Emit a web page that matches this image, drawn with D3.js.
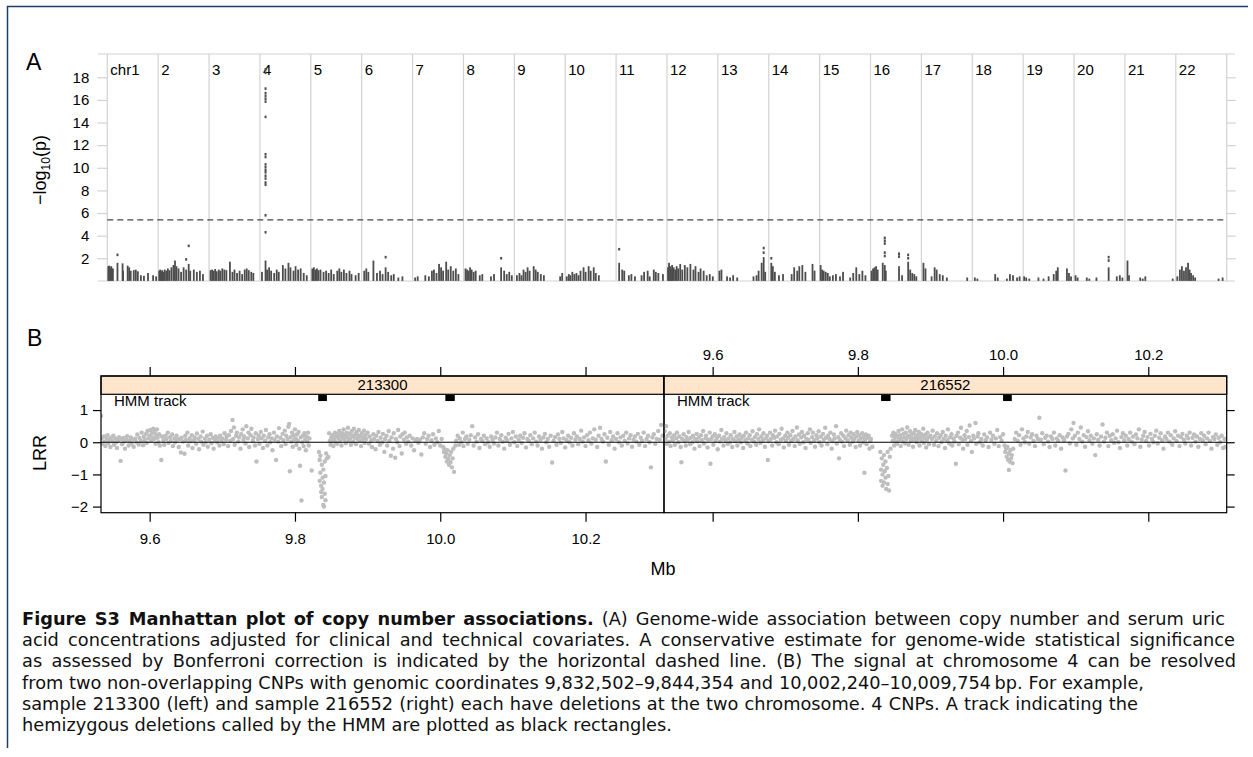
<!DOCTYPE html>
<html>
<head>
<meta charset="utf-8">
<script src="https://cdn.jsdelivr.net/npm/d3@7"></script>
<style>
  body { margin: 0; background: #fff; }
  svg { display: block; }
  text { font-family: "Liberation Sans", Arial, sans-serif; }
</style>
</head>
<body>
<svg id="fig" width="1253" height="757"></svg>
<script>
// ---------------- panel A data ----------------
const chromosomes = ["chr1", "2", "3", "4", "5", "6", "7", "8", "9", "10", "11",
  "12", "13", "14", "15", "16", "17", "18", "19", "20", "21", "22"];
const yTicksA = [2, 4, 6, 8, 10, 12, 14, 16, 18];
const bonferroni = 5.4;

// dense low-level marks per chromosome: [relative position, -log10 p]
const cnpColumns = [
  [[.02,1.3],[.04,1.35],[.06,1.2],[.08,1.3],[.11,1.1],[.2,1.6],[.3,1.55],[.31,.9],[.4,1.35],[.43,1.2],[.46,.9],[.52,.95],[.56,1.0],[.6,.85],[.66,.5],[.72,.45],[.8,.7],[.9,.5],[.96,.4]],
  [[.02,.9],[.04,1.0],[.06,.85],[.08,.95],[.1,.8],[.13,1.0],[.16,.9],[.19,1.1],[.22,.95],[.26,1.2],[.3,1.4],[.33,1.8],[.36,1.3],[.4,1.1],[.45,.8],[.5,1.2],[.55,1.0],[.6,1.5],[.63,.9],[.7,1.0],[.76,.8],[.82,.9],[.88,.6]],
  [[.03,.95],[.06,1.0],[.09,.9],[.12,1.05],[.15,.85],[.19,1.0],[.22,.9],[.26,1.1],[.3,1.0],[.34,.95],[.41,1.7],[.46,.8],[.5,1.0],[.55,.7],[.6,.9],[.65,.6],[.7,1.0],[.74,1.1],[.78,.95],[.83,.8],[.87,.7]],
  [[.04,.8],[.11,1.8],[.14,1.0],[.18,1.2],[.22,.9],[.28,.7],[.33,1.0],[.37,.8],[.45,1.4],[.5,1.1],[.56,1.6],[.6,1.2],[.66,.9],[.7,1.3],[.75,1.0],[.8,1.1],[.86,.7],[.92,.5]],
  [[.03,1.1],[.06,1.2],[.09,1.0],[.12,1.1],[.15,.95],[.19,1.0],[.25,.8],[.3,.9],[.35,.7],[.4,1.0],[.45,.6],[.52,.9],[.56,1.1],[.6,.8],[.65,1.0],[.7,.7],[.76,.9],[.8,.6],[.88,.5],[.94,.7]],
  [[.05,.9],[.09,1.1],[.13,.8],[.23,1.8],[.3,.7],[.36,.9],[.41,.6],[.47,1.2],[.52,.8],[.58,.5],[.63,.6],[.72,.3],[.8,.4]],
  [[.05,.3],[.1,.4],[.25,.5],[.32,.4],[.38,.9],[.42,1.0],[.47,.7],[.52,1.5],[.56,1.2],[.6,.9],[.66,1.7],[.7,1.0],[.75,1.3],[.8,.9],[.85,1.1],[.9,.6]],
  [[.04,1.1],[.07,1.0],[.1,.9],[.13,1.2],[.16,1.0],[.2,.8],[.24,.9],[.32,.5],[.37,.6],[.54,.4],[.6,.6],[.74,1.2],[.8,.9],[.85,.6],[.9,.8],[.95,.5]],
  [[.05,.5],[.1,.7],[.14,.5],[.18,1.0],[.22,.8],[.26,1.2],[.3,.9],[.38,1.3],[.42,1.0],[.46,.8],[.52,.6],[.58,.5],[.9,.4],[.94,.7]],
  [[.03,.4],[.07,.6],[.1,.5],[.14,.8],[.18,.6],[.22,.7],[.26,.5],[.3,.9],[.36,1.2],[.4,.8],[.46,1.3],[.5,.9],[.56,1.2],[.6,.7],[.66,.5]],
  [[.06,1.6],[.12,1.0],[.16,.9],[.25,.5],[.3,.6],[.37,.4],[.5,.5],[.55,.8],[.62,.9],[.66,.4],[.74,1.0],[.78,.8],[.83,.7],[.92,.6]],
  [[.02,1.2],[.04,1.6],[.06,1.3],[.08,1.1],[.1,1.4],[.13,1.2],[.16,1.0],[.19,1.3],[.22,1.1],[.26,1.5],[.3,1.0],[.35,1.4],[.4,1.2],[.46,1.5],[.52,1.0],[.56,1.3],[.62,.8],[.66,1.1],[.72,.9],[.78,.5],[.84,.6],[.9,.4]],
  [[.03,.9],[.07,1.0],[.18,.4],[.24,.3],[.3,.5],[.38,.3],[.7,.4],[.76,.5],[.8,.9],[.86,1.6],[.9,2.1],[.93,.8]],
  [[.05,1.6],[.08,1.3],[.12,.8],[.2,.5],[.28,.6],[.45,.6],[.5,1.2],[.56,.9],[.6,1.3],[.66,1.4],[.72,.8],[.86,1.5],[.9,.9]],
  [[.02,1.4],[.05,1.0],[.08,.9],[.12,.8],[.16,.7],[.2,.4],[.26,.5],[.32,.6],[.4,.4],[.46,.8],[.6,.3],[.66,.7],[.72,1.2],[.78,.6],[.84,.9],[.9,.5]],
  [[.02,.9],[.05,1.1],[.08,1.2],[.11,1.3],[.14,1.0],[.24,1.6],[.28,1.4],[.3,.9],[.56,1.3],[.62,.5],[.74,1.7],[.78,1.0],[.82,.7],[.86,.6],[.9,.4]],
  [[.04,1.6],[.08,1.1],[.2,.4],[.26,1.2],[.3,1.0],[.36,.6],[.42,.5],[.5,.3],[.9,.3]],
  [[.05,.3],[.1,.2],[.45,.6],[.5,.3],[.68,.2],[.74,.6],[.8,.5],[.88,.3],[.93,.4]],
  [[.02,.4],[.06,.3],[.12,.2],[.3,.3],[.4,.2],[.5,.4],[.6,.6],[.65,.9],[.68,1.2],[.86,1.1],[.9,.7],[.94,.4]],
  [[.03,.5],[.07,.3],[.25,.3],[.3,.2],[.44,.3],[.68,1.2],[.84,.4],[.9,.5],[.95,.3]],
  [[.05,1.8],[.08,.5],[.3,.3],[.35,.2],[.4,.4],[.94,.2]],
  [[.03,.4],[.08,1.0],[.12,1.3],[.16,.9],[.2,1.2],[.24,1.6],[.27,1.0],[.3,.7],[.34,.5],[.38,.3],[.84,.2],[.92,.3]]
];

// isolated points: [chromosome index, relative position, -log10 p]
const topHits = [
  [3,.11,18.7],[3,.11,18.4],[3,.11,17.0],[3,.11,16.6],[3,.11,16.35],[3,.11,16.1],[3,.11,15.85],
  [3,.11,14.5],[3,.11,11.2],[3,.11,10.95],[3,.11,10.3],[3,.11,10.05],[3,.11,9.8],[3,.11,9.6],
  [3,.11,9.3],[3,.11,9.05],[3,.11,8.7],[3,.11,8.5],[3,.11,5.8],[3,.11,4.3],
  [0,.2,2.3],[1,.6,3.1],[1,.55,1.9],[5,.47,2.1],[7,.74,2.0],[10,.06,2.8],[12,.9,2.9],[12,.9,2.5],
  [13,.05,2.0],[15,.28,3.8],[15,.28,3.55],[15,.28,3.3],[15,.28,2.5],[15,.28,2.2],[15,.56,2.4],
  [15,.56,2.15],[15,.74,2.3],[15,.74,2.0],[19,.68,2.1],[19,.68,1.8]
];

// ---------------- panel B data ----------------
const samples = ["213300", "216552"];
const xTicksB = [9600, 9800, 10000, 10200];   // kb
const yTicksB = [-2, -1, 0, 1];
const hmmTrackLevel = 1.375;

// HMM deletion calls per sample: [start kb, end kb]
const hmmCalls = [
  [[9832, 9844], [10007, 10020]],
  [[9832, 9845], [10000, 10012]]
];

// log R ratio per sample: [position kb, LRR]
const lrr213300 = [
  [9533,.82],[9534,.12],[9535,-.05],[9537,.18],[9538,.02],[9539,-.12],[9541,.1],[9542,.22],[9543,-.03],[9545,.08],[9546,-.15],[9547,.14],[9549,.03],[9550,.2],[9551,-.08],[9553,.12],[9554,.0],[9555,-.18],[9557,.06],[9558,.16],[9560,-.58],[9561,.1],[9562,-.06],[9564,.13],[9565,.02],[9566,-.2],[9568,.08],[9569,.19],[9571,-.1],[9572,.05],[9574,.15],[9575,-.04],[9577,.09],[9578,-.14],[9580,.11],[9582,.0],[9583,.24],[9585,-.07],[9586,.13],[9588,.04],[9589,.3],[9591,-.09],[9592,.18],[9593,.07],[9595,.26],[9596,-.02],[9597,.35],[9598,.12],[9600,.2],
  [9601,.38],[9602,.05],[9603,.28],[9604,.15],[9605,.42],[9606,.1],[9607,.32],[9608,-.05],[9609,.22],[9610,.4],[9611,.14],[9612,.0],[9613,.25],[9614,-.1],[9616,-.55],[9617,.18],[9619,.06],[9620,-.08],[9622,.2],[9623,.1],[9625,.3],[9626,-.02],[9628,.16],[9629,.04],[9631,.24],[9632,-.12],[9634,.12],[9635,.0],[9637,.2],[9638,.08],[9640,-.15],[9641,.1],[9643,-.32],[9644,.14],[9646,.02],[9648,-.36],[9649,.2],[9650,.07],
  [9652,.3],[9653,-.1],[9655,.12],[9656,.03],[9658,.22],[9659,-.18],[9661,.06],[9662,.15],[9664,-.05],[9665,.27],[9667,.1],[9668,-.22],[9670,.18],[9671,.02],[9673,.33],[9674,-.08],[9676,.12],[9677,.0],[9679,.2],[9680,-.14],[9682,.08],[9684,.25],[9685,-.03],[9687,.14],[9688,-.2],[9690,.06],[9691,.18],[9693,.0],[9694,.1],[9696,-.1],[9697,.2],[9699,.05],
  [9700,.12],[9702,-.06],[9703,.28],[9705,.08],[9706,.18],[9708,-.12],[9709,.22],[9711,.05],[9712,.35],[9714,.69],[9715,.1],[9716,.46],[9717,-.08],[9719,.2],[9720,.3],[9722,.02],[9723,.15],[9725,-.2],[9726,.25],[9728,.4],[9729,.08],[9730,.18],[9732,-.04],[9733,.5],[9735,.12],[9736,.3],[9737,-.15],[9739,.22],[9740,.42],[9742,.05],[9743,.15],[9745,-.1],[9746,.28],[9747,-.6],[9749,.1],[9750,.2],
  [9751,-.05],[9753,.32],[9754,.12],[9756,-.18],[9757,.2],[9759,.05],[9760,.38],[9762,-.1],[9763,.15],[9765,.25],[9766,.0],[9768,.12],[9769,-.25],[9771,.3],[9772,.08],[9774,-.55],[9775,.18],[9777,.02],[9778,.44],[9780,.14],[9781,-.12],[9783,.26],[9784,.06],[9786,.36],[9787,-.06],[9788,.2],[9790,.1],[9791,.48],[9792,.57],[9793,-.9],[9794,.16],[9795,.02],[9796,.3],[9797,-.14],[9798,.22],[9799,.08],[9800,.4],
  [9801,.12],[9802,-.08],[9803,.25],[9804,.05],[9805,.32],[9806,-.2],[9807,-.73],[9808,.15],[9809,-1.81],[9810,.0],[9811,.2],[9812,-.12],[9813,.28],[9814,.08],[9815,-.25],[9816,.18],[9817,.02],[9818,.3],[9819,-.1],[9820,.12],[9823,-.88],
  [9833,-.3],[9834,-.55],[9834,-1.2],[9835,-.42],[9835,-.95],[9836,-1.35],[9836,-1.55],[9837,-.7],[9837,-1.7],[9838,-1.1],[9838,-1.45],[9839,-.85],[9839,-1.95],[9840,-1.25],[9840,-2.0],[9841,-.6],[9841,-1.6],[9842,-1.05],[9842,-1.8],[9843,-.35],[9844,-.5],[9846,-.46],
  [9847,.28],[9848,.05],[9849,-.08],[9850,.15],[9851,.02],[9852,.22],[9853,-.12],[9854,.1],[9855,.3],[9856,.0],[9857,.18],[9858,-.05],[9859,.25],[9860,.12],[9861,.35],[9862,.04],[9863,.2],[9864,-.1],[9865,.28],[9866,.14],[9867,.4],[9868,.08],[9869,.22],[9870,-.03],[9871,.3],[9872,.16],[9873,.45],[9874,.06],[9875,.26],[9876,.12],[9877,-.08],[9878,.34],[9879,.2],[9880,.02],[9881,.42],[9882,.14],[9883,.25],[9884,-.06],[9885,.32],[9886,.1],[9887,.2],[9888,.38],[9889,.04],[9890,.18],[9891,-.12],[9892,.28],[9893,.08],[9894,.15],[9895,.36],[9896,-.02],[9897,.22],[9898,.1],[9900,.3],
  [9902,-.05],[9903,.18],[9905,.06],[9906,-.15],[9908,.25],[9909,.1],[9911,-.22],[9912,.2],[9914,.04],[9915,.32],[9917,-.08],[9918,.14],[9920,.0],[9921,.26],[9923,-.3],[9924,.1],[9926,.2],[9927,-.1],[9929,.35],[9930,.05],[9932,-.42],[9933,.15],[9935,-.2],[9936,.28],[9938,-.48],[9939,.1],[9941,.0],[9942,.38],[9944,-.12],[9945,.18],[9947,-.35],[9948,.25],[9950,.08],[9951,.3],[9953,-.05],[9954,.15],[9956,.02],[9958,.2],[9960,-.1],[9962,.12],[9964,-.25],[9966,.05],[9968,.1],[9970,-.02],[9972,.08],[9974,-.38],[9976,.15],[9978,.28],[9980,-.05],[9982,.1],[9984,.2],[9986,-.15],[9988,.06],[9990,.25],[9992,-.08],[9994,.12],[9996,.0],[9998,.35],[10000,-.1],[10002,.1],
  [10004,-.15],[10005,-.3],[10006,-.22],[10007,-.45],[10008,-.35],[10009,-.6],[10010,-.25],[10011,-.52],[10012,-.7],[10013,-.4],[10014,-.62],[10015,-.3],[10016,-.78],[10017,-.5],[10018,-.2],[10019,-.92],[10021,-.1],[10022,.05],
  [10024,.2],[10026,-.08],[10027,.12],[10029,.0],[10031,.3],[10032,-.12],[10034,.1],[10036,.18],[10038,-.05],[10040,.08],[10042,.22],[10044,.5],[10046,-.1],[10048,.15],[10050,.02],[10052,.25],[10054,-.18],[10056,.1],[10058,.04],[10060,.2],[10062,-.06],[10064,.12],[10066,.0],[10068,-.14],[10070,.18],[10072,.08],[10074,-.04],[10076,.15],[10078,.3],[10080,-.1],[10082,.1],[10084,.22],[10086,.02],[10088,-.2],[10090,.14],[10092,.06],[10094,.26],[10096,-.08],[10098,.12],[10100,.32],[10102,.0],[10104,.18],[10106,-.12],[10108,.08],[10110,.2],[10112,-.02],[10114,.14],[10116,.28],[10118,-.16],[10120,.1],[10122,.04],[10124,.22],[10126,-.06],[10128,.12],[10130,.3],[10132,.02],[10134,-.1],[10136,.18],[10138,.08],[10140,-.2],[10142,.15],[10144,.26],[10146,.0],[10148,.1],[10150,-.14],[10152,.2],[10154,-.63],[10156,.05],[10158,.16],[10160,-.08],[10162,.24],[10164,.1],[10166,-.02],[10168,.32],[10170,.12],[10172,-.16],[10174,.06],[10176,.2],[10178,.0],[10180,.14],[10182,-.1],[10184,.28],[10186,.08],[10188,.18],[10190,-.06],[10192,.1],[10194,.36],[10196,.02],[10198,.15],[10200,-.12],[10202,.22],[10204,.06],[10206,.3],[10208,-.04],[10210,.12],[10212,.4],[10214,.08],[10216,-.15],[10218,.2],[10220,.45],[10222,.1],[10224,.02],[10226,.25],[10228,-.6],[10230,.14],[10232,-.08],[10234,.32],[10236,.06],[10238,.18],[10240,-.2],[10242,.1],[10244,.28],[10246,.0],[10248,.15],[10250,-.1],[10252,.2],[10254,.05],[10256,.3],[10258,-.04],[10260,.12],[10262,.22],[10264,-.14],[10266,.08],[10268,.18],[10270,.02],[10272,.26],[10274,-.08],[10276,.14],[10278,.04],[10280,.3],[10282,-.12],[10284,.1],[10286,.2],[10288,.0],[10290,-.78],[10292,.15],[10294,.25],[10296,-.05],[10298,.1],[10300,.35],[10302,.08],[10304,.54],[10306,.2]
];

const lrr216552 = [
  [9534,.35],[9535,.1],[9536,.5],[9537,-.05],[9538,.2],[9540,.02],[9541,.28],[9542,-.12],[9544,.15],[9545,.06],[9547,.22],[9548,-.08],[9550,.12],[9551,.3],[9553,.0],[9554,.18],[9556,-.15],[9557,-.62],[9558,.1],[9560,.25],[9561,.04],[9563,-.1],[9564,.16],[9566,.08],[9567,.32],[9569,-.06],[9570,.14],[9572,.0],[9573,.2],[9575,-.2],[9576,.1],[9578,.26],[9579,.03],[9581,.15],[9582,-.12],[9584,.22],[9585,.06],[9587,.35],[9588,-.04],[9590,.12],[9591,.2],[9593,-.16],[9594,.08],[9596,.3],[9597,-.67],[9598,.1],[9600,.18],
  [9601,-.08],[9603,.25],[9604,.05],[9606,.14],[9607,-.22],[9609,.2],[9610,.02],[9612,.38],[9613,.1],[9615,-.1],[9616,.16],[9618,.06],[9619,.28],[9621,-.05],[9622,.12],[9624,.0],[9625,.22],[9627,-.15],[9628,.1],[9630,.32],[9631,.04],[9633,.18],[9634,-.1],[9636,.08],[9637,.24],[9639,.0],[9640,.14],[9642,-.18],[9643,.2],[9645,.06],[9646,.3],[9648,-.04],[9649,.12],[9651,.22],[9652,-.12],[9654,.08],[9655,.34],[9657,.02],[9658,.16],[9660,-.08],[9661,.25],[9663,.1],[9664,.4],[9666,-.02],[9667,.18],[9669,.06],[9670,.28],[9672,-.14],[9673,.12],[9675,.2],[9676,-.55],[9677,.04],[9679,.3],[9680,.1],[9682,-.1],[9683,.22],[9685,.14],[9686,.36],[9688,.0],[9689,.18],[9691,-.06],[9692,.26],[9694,.08],[9695,.42],[9697,.12],[9698,-.16],[9700,.2],
  [9701,.05],[9703,.3],[9704,.14],[9705,-.08],[9707,.22],[9708,.04],[9710,.35],[9711,.1],[9713,-.12],[9714,.18],[9716,.46],[9717,.06],[9719,.24],[9720,-.05],[9722,.15],[9723,.32],[9725,.0],[9726,.2],[9728,-.18],[9729,.1],[9731,.28],[9732,.08],[9734,.4],[9735,-.02],[9737,.16],[9738,.3],[9740,.06],[9741,-.14],[9743,.22],[9744,.12],[9746,.34],[9747,.0],[9749,.18],[9750,-.1],[9752,.26],[9753,.08],[9755,.45],[9756,.14],[9758,-.06],[9759,.2],[9761,.1],[9762,.3],[9764,-.2],[9765,.04],[9767,.24],[9768,.12],[9770,.5],[9771,-.04],[9773,.16],[9774,-.5],[9775,.08],[9777,.28],[9778,.02],[9780,.2],[9781,-.12],[9783,.12],[9784,.36],[9786,.06],[9787,.22],[9789,-.08],[9790,.3],[9791,.14],[9793,.02],[9794,.25],[9795,.1],[9797,-.15],[9798,.18],[9799,.32],[9801,.05],[9802,.22],[9803,-.1],[9804,.12],[9806,.28],[9807,.0],[9808,.16],[9809,-.95],[9810,.08],[9811,.24],[9812,-.06],[9813,.14],[9815,.2],[9816,-.2],[9817,.04],[9818,.1],[9820,-.14],
  [9831,-.3],[9832,-.85],[9832,-1.2],[9833,-.5],[9834,-1.0],[9834,-1.35],[9835,-.7],[9836,-1.25],[9836,-.4],[9837,-.9],[9838,-1.1],[9838,-.6],[9839,-1.45],[9840,-.8],[9841,-1.3],[9841,-.3],[9842,-1.05],[9843,-1.5],[9844,-.45],[9845,-.2],
  [9847,.2],[9848,.05],[9849,.3],[9850,-.1],[9851,.14],[9852,.25],[9853,.02],[9854,-.05],[9855,.18],[9856,.35],[9857,.08],[9858,.22],[9859,-.12],[9860,.12],[9861,.4],[9862,.02],[9863,.26],[9864,.15],[9865,-.04],[9866,.3],[9867,.1],[9868,.46],[9869,.2],[9870,-.08],[9871,.16],[9872,.34],[9873,.04],[9874,.24],[9875,.12],[9876,-.14],[9877,.28],[9878,.08],[9879,.38],[9880,.18],[9881,.0],[9882,.22],[9883,.1],[9884,.32],[9885,-.1],[9886,.14],[9887,.26],[9888,.04],[9889,.2],[9890,.42],[9891,-.02],[9892,.12],[9893,.24],[9894,-.16],[9895,.08],[9896,.3],[9897,.16],[9898,-.06],[9900,.2],
  [9902,.1],[9903,.36],[9905,-.08],[9906,.18],[9908,.05],[9909,.28],[9911,-.12],[9912,.14],[9914,.22],[9915,.0],[9917,.32],[9918,.1],[9920,-.18],[9921,.2],[9923,.06],[9924,.4],[9926,-.04],[9927,.15],[9929,.25],[9930,-.1],[9932,.12],[9933,.02],[9935,-.67],[9936,.2],[9938,.3],[9939,-.06],[9941,.14],[9942,.45],[9944,.08],[9945,-.2],[9947,.22],[9948,.1],[9950,.35],[9951,-.08],[9953,.16],[9954,.52],[9956,.04],[9957,-.3],[9959,.2],[9960,.12],[9962,.6],[9963,-.05],[9965,.18],[9966,.28],[9968,.0],[9970,.1],[9972,-.1],[9974,.24],[9976,.06],[9978,.15],[9980,-.15],[9982,.3],[9984,.08],[9986,.2],[9988,-.05],[9990,.12],[9992,.38],[9994,-.12],[9996,.16],[9998,.05],[10000,.25],
  [10002,-.1],[10003,-.3],[10004,-.2],[10005,-.45],[10006,-.15],[10007,-.55],[10008,-.86],[10008,-.35],[10009,-.6],[10010,-.25],[10011,-.5],[10012,-.4],[10013,-.65],[10014,-.2],[10016,.1],
  [10018,.3],[10020,.05],[10022,.22],[10024,-.08],[10026,.4],[10028,.12],[10030,.0],[10032,.18],[10034,.32],[10036,-.05],[10038,.15],[10040,.25],[10042,.04],[10044,-.12],[10046,.2],[10048,.1],[10050,.76],[10052,.08],[10054,.28],[10056,-.06],[10058,.14],[10060,.2],[10062,.02],[10064,-.15],[10066,.18],[10068,.1],[10070,.3],[10072,-.1],[10074,.12],[10076,.05],[10078,.22],[10080,-.2],[10082,.15],[10084,.06],[10086,-.88],[10088,.18],[10090,.26],[10092,-.04],[10094,.4],[10096,.12],[10097,.6],[10099,.2],[10101,-.08],[10103,.3],[10105,.1],[10107,.46],[10109,.02],[10111,.22],[10113,-.14],[10115,.16],[10117,.34],[10119,.06],[10121,.2],[10123,-.05],[10125,.12],[10127,-.4],[10129,.25],[10131,.08],[10133,-.1],[10135,.18],[10137,.55],[10139,.02],[10141,.14],[10143,.3],[10145,-.12],[10147,.2],[10149,.06],[10151,.25],[10153,-.02],[10155,.12],[10157,.36],[10159,.0],[10161,-.18],[10163,.16],[10165,.28],[10167,.06],[10169,.2],[10171,-.1],[10173,.1],[10175,.3],[10177,.02],[10179,.18],[10181,-.06],[10183,.24],[10185,.12],[10187,.4],[10189,-.14],[10191,.08],[10193,.2],[10195,.32],[10197,.04],[10199,.16],[10201,-.1],[10203,.26],[10205,.1],[10207,.0],[10209,.2],[10211,.36],[10213,-.04],[10215,.14],[10217,.28],[10219,.06],[10221,-.2],[10223,.18],[10225,.1],[10227,.3],[10229,.02],[10231,.22],[10233,-.08],[10235,.12],[10237,.34],[10239,.04],[10241,.2],[10243,-.12],[10245,.16],[10247,.26],[10249,.08],[10251,-.04],[10253,.2],[10255,.12],[10257,.3],[10259,-.1],[10261,.14],[10263,.24],[10265,.02],[10267,.18],[10269,-.14],[10271,.1],[10273,.28],[10275,.06],[10277,.2],[10279,-.06],[10281,.12],[10283,.3],[10285,.04],[10287,-.2],[10289,.16],[10291,.1],[10293,.24],[10295,-.08],[10297,.14],[10299,.0],[10301,.2],[10303,-.18],[10305,.1],[10306,-.15]
];
const lrrBySample = [lrr213300, lrr216552];

// ---------------- caption ----------------
const captionLines = [
  [["Figure S3\u2002Manhattan plot of copy number associations.", true], [" (A) Genome-wide association between copy number and serum uric", false]],
  [["acid concentrations adjusted for clinical and technical covariates. A conservative estimate for genome-wide statistical significance", false]],
  [["as assessed by Bonferroni correction is indicated by the horizontal dashed line. (B) The signal at chromosome 4 can be resolved", false]],
  [["from two non-overlapping CNPs with genomic coordinates 9,832,502\u20139,844,354 and 10,002,240\u201310,009,754\u2009bp. For example,", false]],
  [["sample 213300 (left) and sample 216552 (right) each have deletions at the two chromosome. 4 CNPs. A track indicating the", false]],
  [["hemizygous deletions called by the HMM are plotted as black rectangles.", false]]
];
const captionEnds = [1225, 1235, 1236, 1144, 1138, 672];

// ================= drawing =================
const svg = d3.select("#fig");
svg.append("rect").attr("width", 1253).attr("height", 757).attr("fill", "#fff");

// figure frame
svg.append("path")
  .attr("d", "M7.5,748 V6.5 H1248")
  .attr("fill", "none").attr("stroke", "#1b3f6b").attr("stroke-width", 1.5);

// ---------- panel A ----------
const gA = svg.append("g");
const xChr = d3.scaleBand().domain(chromosomes).range([107.3, 1226.7]);
const yA = d3.scaleLinear().domain([0, 20.06]).range([280.9, 54]);
const bw = xChr.bandwidth();
const grey = "#d2d2d2";

gA.append("text").attr("x", 26).attr("y", 70).attr("font-size", 23).text("A");

// horizontal frame lines
[54, 281].forEach(y => {
  gA.append("line").attr("x1", 98).attr("x2", 1235).attr("y1", y).attr("y2", y)
    .attr("stroke", grey).attr("stroke-width", 1.2);
});
// chromosome separators
gA.selectAll(".sep").data(chromosomes.concat(["end"])).join("line")
  .attr("x1", (d, i) => 107.3 + i * bw).attr("x2", (d, i) => 107.3 + i * bw)
  .attr("y1", 54).attr("y2", 281)
  .attr("stroke", grey).attr("stroke-width", 1.2);

// y axes
const axL = gA.append("g").attr("transform", "translate(107.3,0)")
  .call(d3.axisLeft(yA).tickValues(yTicksA).tickSize(10).tickPadding(8));
const axR = gA.append("g").attr("transform", "translate(1226.7,0)")
  .call(d3.axisRight(yA).tickValues(yTicksA).tickSize(9).tickFormat(""));
[axL, axR].forEach(a => {
  a.select(".domain").remove();
  a.selectAll("line").attr("stroke", grey).attr("stroke-width", 1.2);
  a.selectAll("text").attr("font-size", 15).attr("fill", "#000")
    .attr("font-family", "Liberation Sans, Arial, sans-serif");
});

// chromosome labels
gA.selectAll(".chrlab").data(chromosomes).join("text")
  .attr("x", d => xChr(d) + 3).attr("y", 75)
  .attr("font-size", 15).text(d => d);

// Bonferroni line
gA.append("line").attr("x1", 107.3).attr("x2", 1226.7)
  .attr("y1", yA(bonferroni)).attr("y2", yA(bonferroni))
  .attr("stroke", "#444").attr("stroke-width", 1.2).attr("stroke-dasharray", "6,4");

// low-level marks
const markCol = "#4d4d4d";
cnpColumns.forEach((cols, i) => {
  const x0 = xChr(chromosomes[i]);
  gA.selectAll(null).data(cols).join("rect")
    .attr("x", d => x0 + d[0] * bw - 0.9).attr("width", 1.8)
    .attr("y", d => yA(d[1])).attr("height", d => yA(0) - yA(d[1]))
    .attr("fill", markCol);
});
gA.selectAll(".hit").data(topHits).join("rect")
  .attr("x", d => xChr(chromosomes[d[0]]) + d[1] * bw - 1)
  .attr("y", d => yA(d[2]) - 1.3)
  .attr("width", 2).attr("height", 2.6).attr("fill", markCol);

// y label
const ylabA = gA.append("text").attr("transform", "translate(46,170) rotate(-90)")
  .attr("text-anchor", "middle").attr("font-size", 18);
ylabA.append("tspan").text("\u2212log");
ylabA.append("tspan").attr("font-size", 12).attr("dy", 4).text("10");
ylabA.append("tspan").attr("dy", -4).text("(p)");

// ---------- panel B ----------
const gB = svg.append("g");
gB.append("text").attr("x", 27).attr("y", 346).attr("font-size", 23).text("B");

const stripTop = 376, panelTop = 394.3, panelBot = 512.7;
const panelsX = [[101, 664], [664, 1226.7]];
const yB = d3.scaleLinear().domain([-2.19, 1.49]).range([panelBot, panelTop]);

svg.append("defs").selectAll("clipPath").data(panelsX).join("clipPath")
  .attr("id", (d, i) => "clipB" + i)
  .append("rect").attr("x", d => d[0]).attr("y", panelTop)
  .attr("width", d => d[1] - d[0]).attr("height", panelBot - panelTop);

panelsX.forEach((rng, i) => {
  const xB = d3.scaleLinear().domain([9533, 10308]).range(rng);
  const g = gB.append("g");

  // points
  g.append("g").attr("clip-path", `url(#clipB${i})`)
    .selectAll("circle").data(lrrBySample[i]).join("circle")
    .attr("cx", d => xB(d[0])).attr("cy", d => yB(d[1])).attr("r", 2.2)
    .attr("fill", "#bebebe");

  // zero line
  g.append("line").attr("x1", rng[0]).attr("x2", rng[1])
    .attr("y1", yB(0)).attr("y2", yB(0)).attr("stroke", "#000").attr("stroke-width", 1);

  // HMM calls
  g.selectAll(".hmm").data(hmmCalls[i]).join("rect")
    .attr("x", d => xB(d[0])).attr("width", d => xB(d[1]) - xB(d[0]))
    .attr("y", yB(hmmTrackLevel + 0.095)).attr("height", yB(hmmTrackLevel - 0.095) - yB(hmmTrackLevel + 0.095))
    .attr("fill", "#000");

  g.append("text").attr("x", rng[0] + 13).attr("y", 406).attr("font-size", 15).text("HMM track");

  // strip
  g.append("rect").attr("x", rng[0]).attr("y", stripTop)
    .attr("width", rng[1] - rng[0]).attr("height", panelTop - stripTop)
    .attr("fill", "#ffe5cc").attr("stroke", "#000").attr("stroke-width", 1.2);
  g.append("text").attr("x", (rng[0] + rng[1]) / 2).attr("y", 390)
    .attr("text-anchor", "middle").attr("font-size", 15).text(samples[i]);

  // border
  g.append("rect").attr("x", rng[0]).attr("y", stripTop)
    .attr("width", rng[1] - rng[0]).attr("height", panelBot - stripTop)
    .attr("fill", "none").attr("stroke", "#000").attr("stroke-width", 1.2);

  // x axes, alternating labels
  const fmt = d => (d / 1000).toFixed(1);
  const top = g.append("g").attr("transform", `translate(0,${stripTop})`)
    .call(d3.axisTop(xB).tickValues(xTicksB).tickSize(9).tickPadding(7)
      .tickFormat(i === 1 ? fmt : ""));
  const bot = g.append("g").attr("transform", `translate(0,${panelBot})`)
    .call(d3.axisBottom(xB).tickValues(xTicksB).tickSize(9).tickPadding(12)
      .tickFormat(i === 0 ? fmt : ""));
  [top, bot].forEach(a => {
    a.select(".domain").remove();
    a.selectAll("line").attr("stroke", "#000").attr("stroke-width", 1.2);
    a.selectAll("text").attr("font-size", 15).attr("fill", "#000")
      .attr("font-family", "Liberation Sans, Arial, sans-serif");
  });
});

// y axes B
const byL = gB.append("g").attr("transform", "translate(101,0)")
  .call(d3.axisLeft(yB).tickValues(yTicksB).tickSize(8).tickPadding(5).tickFormat(d3.format("d")));
const byR = gB.append("g").attr("transform", "translate(1226.7,0)")
  .call(d3.axisRight(yB).tickValues(yTicksB).tickSize(8).tickFormat(""));
[byL, byR].forEach(a => {
  a.select(".domain").remove();
  a.selectAll("line").attr("stroke", "#000").attr("stroke-width", 1.2);
  a.selectAll("text").attr("font-size", 15).attr("fill", "#000")
    .attr("font-family", "Liberation Sans, Arial, sans-serif");
});

gB.append("text").attr("transform", "translate(46,453) rotate(-90)")
  .attr("text-anchor", "middle").attr("font-size", 18).text("LRR");
gB.append("text").attr("x", 663).attr("y", 575)
  .attr("text-anchor", "middle").attr("font-size", 18).text("Mb");

// ---------- caption ----------
const capG = svg.append("g");
const capX = 22, capY0 = 625, capStep = 21.2;
const capFont = "'DejaVu Sans', sans-serif";

function addLine(parts, i, size) {
  const t = capG.append("text").attr("x", capX).attr("y", capY0 + i * capStep)
    .style("font-family", capFont).attr("font-size", size).attr("fill", "#111")
    .style("white-space", "pre");
  parts.forEach(p => t.append("tspan").attr("font-weight", p[1] ? "bold" : "normal").text(p[0]));
  return t;
}
// base size from the last (natural width) line
const probe = addLine(captionLines[5], 5, 16);
const capSize = 16 * (captionEnds[5] - capX) / probe.node().getComputedTextLength();
probe.remove();

// stretch inter-word spaces so each line ends where it does in the reference
captionLines.forEach((parts, i) => {
  const t = addLine(parts, i, capSize);
  if (i === captionLines.length - 1) return;
  const len = t.node().getComputedTextLength();
  const txt = parts.map(p => p[0]).join("");
  const nSpaces = (txt.match(/ /g) || []).length;
  t.attr("word-spacing", ((captionEnds[i] - capX - len) / nSpaces).toFixed(3));
});
</script>
</body>
</html>
